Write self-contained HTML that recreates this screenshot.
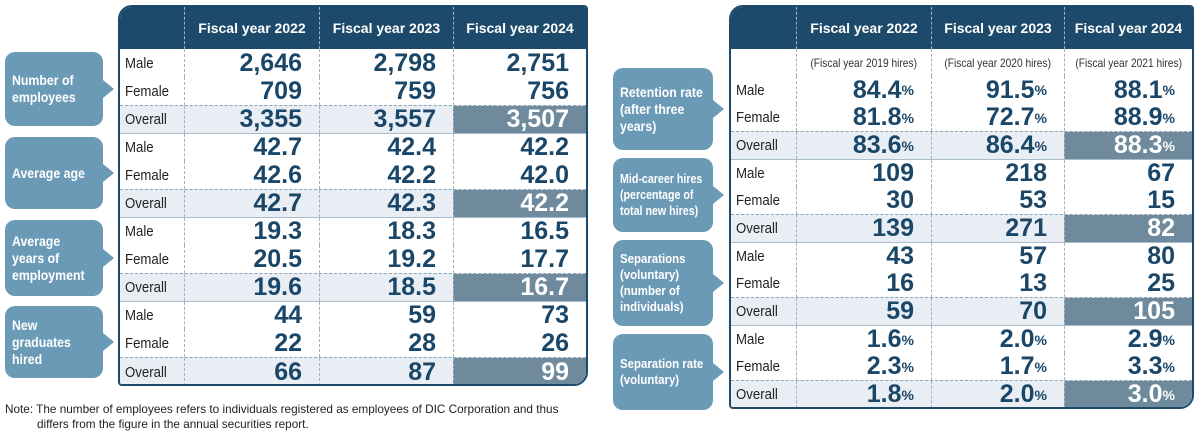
<!DOCTYPE html>
<html><head><meta charset="utf-8"><style>
*{margin:0;padding:0;box-sizing:border-box}
body{width:1200px;height:436px;background:#fff;position:relative;overflow:hidden;font-family:"Liberation Sans",sans-serif}
.tw{position:absolute;border:2px solid #1d4a6a;border-radius:14px 4px 14px 4px;overflow:hidden;background:#fff}
.r{display:flex;overflow:hidden;white-space:nowrap}
.r>div{flex:none;border-left:1px dashed #9fb3c3;display:flex;align-items:center}
.r>div:first-child{border-left:none}
.h{background:#1d4a6a;color:#fff;font-size:14px;font-weight:bold}
.h>div{justify-content:center}
.l{font-size:15px;color:#222;padding-left:5px}
.l span,.s span{display:inline-block;transform:scaleX(.88);transform-origin:left center}
.v{justify-content:flex-end;padding-right:17px;font-size:25px;font-weight:bold;color:#1a4668}
.v small{font-size:14px;font-weight:bold}
.o{background:#e9eef4;border-top:1px dashed #8fa3b3}
.o .d{background:#6e8a9c;color:#fff}
.t{border-top:1.5px solid #a9bccb}
.s>div{justify-content:center;font-size:12px;color:#333}
.s span{transform-origin:center;transform:scaleX(.85)}
.co{position:absolute;background:#6b9ab6;color:#fff;font-weight:bold;border-radius:10px;padding:0 7px;display:flex;align-items:center;font-size:14px;line-height:17px;white-space:nowrap}
.co span{display:inline-block;transform:scaleX(.88);transform-origin:left center}
.co::after{content:"";position:absolute;right:-11px;top:50%;margin-top:-9px;border-left:11px solid #6b9ab6;border-top:9px solid transparent;border-bottom:9px solid transparent}
.note{position:absolute;left:5px;font-size:12px;color:#222;white-space:nowrap;transform:scaleX(.98);transform-origin:left}
</style></head><body>

<div class="co" style="left:5px;top:52px;width:98px;height:74px"><span>Number of<br>employees</span></div>
<div class="co" style="left:5px;top:137px;width:98px;height:72px"><span>Average age</span></div>
<div class="co" style="left:5px;top:220px;width:98px;height:76px"><span>Average<br>years of<br>employment</span></div>
<div class="co" style="left:5px;top:306px;width:98px;height:72px"><span>New<br>graduates<br>hired</span></div>

<div class="tw" style="left:118px;top:5px;width:470px;height:381px">
<div class="r h" style="height:42px"><div style="width:64px"></div><div style="width:135px">Fiscal year 2022</div><div style="width:134px">Fiscal year 2023</div><div style="width:133px">Fiscal year 2024</div></div>

<div class="r" style="height:28px"><div class="l" style="width:64px"><span>Male</span></div><div class="v" style="width:135px">2,646</div><div class="v" style="width:134px">2,798</div><div class="v" style="width:133px">2,751</div></div>
<div class="r" style="height:28px"><div class="l" style="width:64px"><span>Female</span></div><div class="v" style="width:135px">709</div><div class="v" style="width:134px">759</div><div class="v" style="width:133px">756</div></div>
<div class="r o" style="height:28px"><div class="l" style="width:64px"><span>Overall</span></div><div class="v" style="width:135px">3,355</div><div class="v" style="width:134px">3,557</div><div class="v d" style="width:133px">3,507</div></div>

<div class="r t" style="height:28px"><div class="l" style="width:64px"><span>Male</span></div><div class="v" style="width:135px">42.7</div><div class="v" style="width:134px">42.4</div><div class="v" style="width:133px">42.2</div></div>
<div class="r" style="height:28px"><div class="l" style="width:64px"><span>Female</span></div><div class="v" style="width:135px">42.6</div><div class="v" style="width:134px">42.2</div><div class="v" style="width:133px">42.0</div></div>
<div class="r o" style="height:28px"><div class="l" style="width:64px"><span>Overall</span></div><div class="v" style="width:135px">42.7</div><div class="v" style="width:134px">42.3</div><div class="v d" style="width:133px">42.2</div></div>

<div class="r t" style="height:28px"><div class="l" style="width:64px"><span>Male</span></div><div class="v" style="width:135px">19.3</div><div class="v" style="width:134px">18.3</div><div class="v" style="width:133px">16.5</div></div>
<div class="r" style="height:28px"><div class="l" style="width:64px"><span>Female</span></div><div class="v" style="width:135px">20.5</div><div class="v" style="width:134px">19.2</div><div class="v" style="width:133px">17.7</div></div>
<div class="r o" style="height:28px"><div class="l" style="width:64px"><span>Overall</span></div><div class="v" style="width:135px">19.6</div><div class="v" style="width:134px">18.5</div><div class="v d" style="width:133px">16.7</div></div>

<div class="r t" style="height:28px"><div class="l" style="width:64px"><span>Male</span></div><div class="v" style="width:135px">44</div><div class="v" style="width:134px">59</div><div class="v" style="width:133px">73</div></div>
<div class="r" style="height:28px"><div class="l" style="width:64px"><span>Female</span></div><div class="v" style="width:135px">22</div><div class="v" style="width:134px">28</div><div class="v" style="width:133px">26</div></div>
<div class="r o" style="height:29px"><div class="l" style="width:64px"><span>Overall</span></div><div class="v" style="width:135px">66</div><div class="v" style="width:134px">87</div><div class="v d" style="width:133px">99</div></div>
</div>

<div class="note" style="top:402px">Note: The number of employees refers to individuals registered as employees of DIC Corporation and thus</div>
<div class="note" style="top:417px;left:37px">differs from the figure in the annual securities report.</div>

<div class="co" style="left:613px;top:68px;width:100px;height:82px"><span>Retention rate<br>(after three<br>years)</span></div>
<div class="co" style="left:613px;top:158px;width:100px;height:74px;font-size:13px;line-height:16px"><span style="transform:scaleX(.82)">Mid-career hires<br>(percentage of<br>total new hires)</span></div>
<div class="co" style="left:613px;top:240px;width:100px;height:86px;font-size:13px;line-height:16px"><span>Separations<br>(voluntary)<br>(number of<br>individuals)</span></div>
<div class="co" style="left:613px;top:334px;width:100px;height:76px;font-size:13px;line-height:16px"><span>Separation rate<br>(voluntary)</span></div>

<div class="tw" style="left:729px;top:5px;width:465px;height:404px">
<div class="r h" style="height:42px"><div style="width:65px"></div><div style="width:135px">Fiscal year 2022</div><div style="width:133px">Fiscal year 2023</div><div style="width:128px">Fiscal year 2024</div></div>
<div class="r s" style="height:27px"><div style="width:65px"></div><div style="width:135px"><span>(Fiscal year 2019 hires)</span></div><div style="width:133px"><span>(Fiscal year 2020 hires)</span></div><div style="width:128px"><span>(Fiscal year 2021 hires)</span></div></div>

<div class="r" style="height:28px"><div class="l" style="width:65px"><span>Male</span></div><div class="v" style="width:135px">84.4<small>%</small></div><div class="v" style="width:133px">91.5<small>%</small></div><div class="v" style="width:128px">88.1<small>%</small></div></div>
<div class="r" style="height:27px"><div class="l" style="width:65px"><span>Female</span></div><div class="v" style="width:135px">81.8<small>%</small></div><div class="v" style="width:133px">72.7<small>%</small></div><div class="v" style="width:128px">88.9<small>%</small></div></div>
<div class="r o" style="height:28px"><div class="l" style="width:65px"><span>Overall</span></div><div class="v" style="width:135px">83.6<small>%</small></div><div class="v" style="width:133px">86.4<small>%</small></div><div class="v d" style="width:128px">88.3<small>%</small></div></div>

<div class="r t" style="height:28px"><div class="l" style="width:65px"><span>Male</span></div><div class="v" style="width:135px">109</div><div class="v" style="width:133px">218</div><div class="v" style="width:128px">67</div></div>
<div class="r" style="height:27px"><div class="l" style="width:65px"><span>Female</span></div><div class="v" style="width:135px">30</div><div class="v" style="width:133px">53</div><div class="v" style="width:128px">15</div></div>
<div class="r o" style="height:28px"><div class="l" style="width:65px"><span>Overall</span></div><div class="v" style="width:135px">139</div><div class="v" style="width:133px">271</div><div class="v d" style="width:128px">82</div></div>

<div class="r t" style="height:28px"><div class="l" style="width:65px"><span>Male</span></div><div class="v" style="width:135px">43</div><div class="v" style="width:133px">57</div><div class="v" style="width:128px">80</div></div>
<div class="r" style="height:27px"><div class="l" style="width:65px"><span>Female</span></div><div class="v" style="width:135px">16</div><div class="v" style="width:133px">13</div><div class="v" style="width:128px">25</div></div>
<div class="r o" style="height:28px"><div class="l" style="width:65px"><span>Overall</span></div><div class="v" style="width:135px">59</div><div class="v" style="width:133px">70</div><div class="v d" style="width:128px">105</div></div>

<div class="r t" style="height:28px"><div class="l" style="width:65px"><span>Male</span></div><div class="v" style="width:135px">1.6<small>%</small></div><div class="v" style="width:133px">2.0<small>%</small></div><div class="v" style="width:128px">2.9<small>%</small></div></div>
<div class="r" style="height:27px"><div class="l" style="width:65px"><span>Female</span></div><div class="v" style="width:135px">2.3<small>%</small></div><div class="v" style="width:133px">1.7<small>%</small></div><div class="v" style="width:128px">3.3<small>%</small></div></div>
<div class="r o" style="height:28px"><div class="l" style="width:65px"><span>Overall</span></div><div class="v" style="width:135px">1.8<small>%</small></div><div class="v" style="width:133px">2.0<small>%</small></div><div class="v d" style="width:128px">3.0<small>%</small></div></div>
</div>

</body></html>
